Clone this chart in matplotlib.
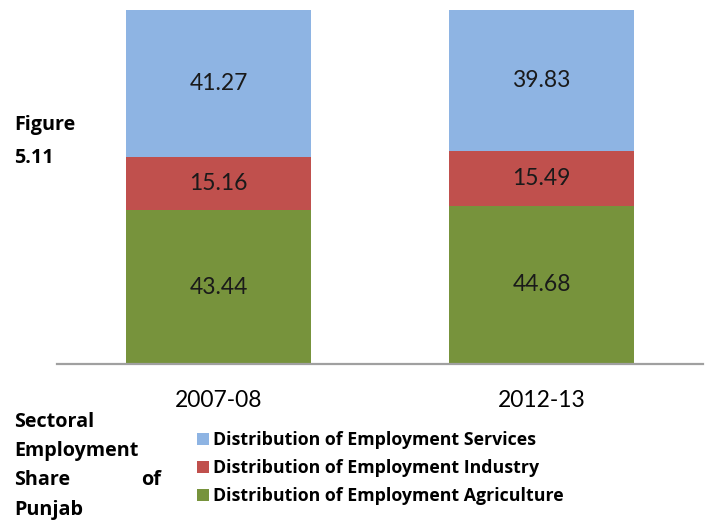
import matplotlib
matplotlib.use("Agg")
import matplotlib.pyplot as plt
import numpy as np

plt.rcParams['font.family'] = ['Lato', 'DejaVu Sans']
BOLD = ['Open Sans', 'DejaVu Sans']

years = ["2007-08", "2012-13"]
agriculture = [43.44, 44.68]
industry = [15.16, 15.49]
services = [41.27, 39.83]

series_names = [
    "Distribution of Employment Agriculture",
    "Distribution of Employment Industry",
    "Distribution of Employment Services",
]
colors = ["#77933C", "#C0504D", "#8EB4E3"]

W, H = 711, 530
fig = plt.figure(figsize=(W / 100, H / 100), dpi=100)
ax = fig.add_axes([57 / W, (H - 364) / H, (703 - 57) / W, (364 - 10) / H])

x = np.arange(len(years))
bottom = np.zeros(len(years))
handles = []
for vals, name, col in zip([agriculture, industry, services], series_names, colors):
    bars = ax.bar(x, vals, width=0.57, bottom=bottom, color=col, label=name)
    handles.append(bars)
    for xi, b, v in zip(x, bottom, vals):
        ax.text(xi, b + v / 2, f"{v:.2f}", ha="center", va="center",
                fontsize=16.5, color="#1a1a1a")
    bottom += np.array(vals)

ax.set_xlim(-0.5, 1.5)
ax.set_ylim(0, 100)
ax.set_yticks([])
ax.set_xticks(x)
ax.set_xticklabels(years, fontsize=16.5)
ax.tick_params(axis="x", length=0, pad=18.5)
for s in ["top", "right", "left"]:
    ax.spines[s].set_visible(False)
ax.spines["bottom"].set_color("#A0A0A0")
ax.spines["bottom"].set_linewidth(1.6)

# caption on the left
cap = dict(fontsize=14.2, fontweight="bold", va="center", family=BOLD)
fig.text(14 / W, 1 - 125 / H, "Figure", **cap)
fig.text(14 / W, 1 - 158 / H, "5.11", **cap)
fig.text(14 / W, 1 - 422 / H, "Sectoral", **cap)
fig.text(14 / W, 1 - 451 / H, "Employment", **cap)
fig.text(14 / W, 1 - 480 / H, "Share", **cap)
fig.text(161 / W, 1 - 480 / H, "of", ha="right", **cap)
fig.text(14 / W, 1 - 510 / H, "Punjab", **cap)

leg = fig.legend(handles[::-1], [h.get_label() for h in handles[::-1]],
                 loc="upper left", bbox_to_anchor=(181 / W, 1 - 415 / H),
                 frameon=False, handlelength=0.66, handleheight=0.66,
                 handletextpad=0.25, labelspacing=0.56,
                 prop={"size": 12.8, "weight": "bold", "family": BOLD})

fig.savefig("out.png", dpi=100)
